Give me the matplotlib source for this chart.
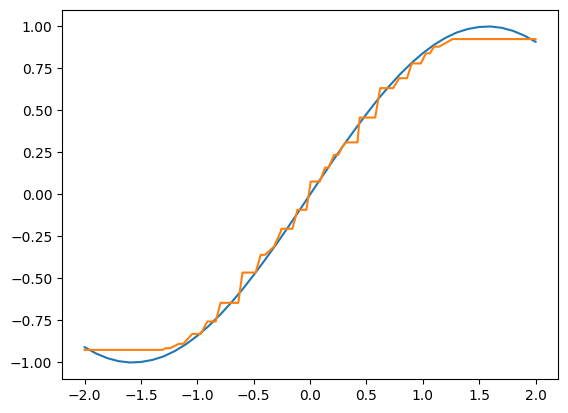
import numpy as np
import matplotlib
matplotlib.use("Agg")
import matplotlib.pyplot as plt

# Blue curve
x_true = [-2.0, -1.9, -1.8, -1.7, -1.6, -1.5, -1.4, -1.3, -1.2, -1.1, -1.0,
          -0.9, -0.8, -0.7, -0.6, -0.5, -0.4, -0.3, -0.2, -0.1, 0.0,
          0.1, 0.2, 0.3, 0.4, 0.5, 0.6, 0.7, 0.8, 0.9, 1.0,
          1.1, 1.2, 1.3, 1.4, 1.5, 1.6, 1.7, 1.8, 1.9, 2.0]
y_true = [-0.909, -0.946, -0.974, -0.992, -1.000, -0.997, -0.985, -0.964, -0.932, -0.891, -0.841,
          -0.783, -0.717, -0.644, -0.565, -0.479, -0.389, -0.296, -0.199, -0.100, 0.0,
          0.100, 0.199, 0.296, 0.389, 0.479, 0.565, 0.644, 0.717, 0.783, 0.841,
          0.891, 0.932, 0.964, 0.985, 0.997, 1.000, 0.992, 0.974, 0.946, 0.909]

# Orange approximation
x_pred = [-2.0, -1.31, -1.28, -1.24, -1.165, -1.125, -1.045, -0.97, -0.912, -0.838,
          -0.794, -0.637, -0.60, -0.483, -0.438, -0.40, -0.32, -0.26, -0.255, -0.157,
          -0.112, -0.033, 0.006, 0.086, 0.133, 0.163, 0.213, 0.25, 0.287, 0.32,
          0.42, 0.44, 0.577, 0.622, 0.737, 0.79, 0.859, 0.903, 0.983, 1.027,
          1.063, 1.10, 1.145, 1.264, 2.0]
y_pred = [-0.925, -0.925, -0.915, -0.915, -0.889, -0.889, -0.83, -0.83, -0.756, -0.756,
          -0.645, -0.645, -0.465, -0.465, -0.359, -0.359, -0.31, -0.22, -0.204, -0.204,
          -0.091, -0.091, 0.077, 0.077, 0.16, 0.16, 0.236, 0.236, 0.286, 0.31,
          0.31, 0.458, 0.458, 0.633, 0.633, 0.692, 0.692, 0.78, 0.78, 0.84,
          0.84, 0.88, 0.88, 0.925, 0.925]

# Plot
fig, ax = plt.subplots()
ax.plot(x_true, y_true)
ax.plot(x_pred, y_pred)
fig.savefig("out.png", bbox_inches="tight")
